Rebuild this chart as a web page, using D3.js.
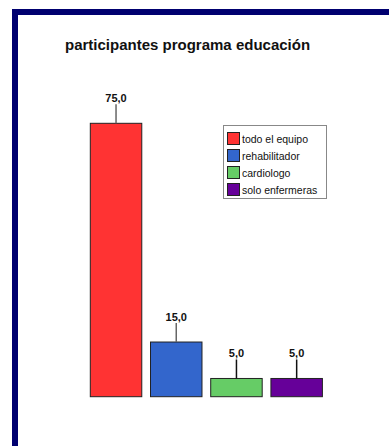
<!DOCTYPE html>
<html><head><meta charset="utf-8">
<script src="https://cdn.jsdelivr.net/npm/d3@7"></script>
<style>body{margin:0;background:#fff;}svg{display:block;font-family:"Liberation Sans",Arial,sans-serif;}</style>
</head><body>
<script>
const categories = ["todo el equipo", "rehabilitador", "cardiologo", "solo enfermeras"];
const values = [75, 15, 5, 5];
const labels = ["75,0", "15,0", "5,0", "5,0"];
const colors = ["#FF3333", "#3366CC", "#66CC66", "#660099"];
const title = "participantes programa educación";

const W = 389, H = 446;
const svg = d3.select("body").append("svg").attr("width", W).attr("height", H);

// frame
svg.append("rect").attr("x", 15).attr("y", 12).attr("width", 500).attr("height", 600)
  .attr("fill", "#fff").attr("stroke", "#000070").attr("stroke-width", 6);

svg.append("text").attr("x", 65).attr("y", 50).attr("font-size", 15).attr("font-weight", "bold")
  .attr("fill", "#111").text(title);

const x = d3.scaleBand().domain(categories).range([90.3, 322.4]).paddingInner(0.145).paddingOuter(0);
const y = d3.scaleLinear().domain([0, 75]).range([396.7, 123.3]);

const g = svg.append("g");
g.selectAll("rect.bar").data(categories).join("rect").attr("class", "bar")
  .attr("x", d => x(d)).attr("width", x.bandwidth())
  .attr("y", (d, i) => y(values[i])).attr("height", (d, i) => y(0) - y(values[i]))
  .attr("fill", (d, i) => colors[i]).attr("stroke", "#222").attr("stroke-width", 1);

g.selectAll("line.lead").data(categories).join("line").attr("class", "lead")
  .attr("x1", d => x(d) + x.bandwidth() / 2).attr("x2", d => x(d) + x.bandwidth() / 2)
  .attr("y1", (d, i) => y(values[i])).attr("y2", (d, i) => y(values[i]) - 19)
  .attr("stroke", (d, i) => i < 2 ? "#666" : "#111").attr("stroke-width", 1.5);

g.selectAll("text.val").data(categories).join("text").attr("class", "val")
  .attr("x", d => x(d) + x.bandwidth() / 2).attr("y", (d, i) => y(values[i]) - 21)
  .attr("text-anchor", "middle").attr("font-size", 11).attr("font-weight", "bold").attr("fill", "#111")
  .text((d, i) => labels[i]);

// legend
const lg = svg.append("g");
lg.append("rect").attr("x", 223.5).attr("y", 125.5).attr("width", 103).attr("height", 73)
  .attr("fill", "#fff").attr("stroke", "#888");
const rows = lg.selectAll("g.row").data(categories).join("g").attr("class", "row")
  .attr("transform", (d, i) => `translate(227,${132 + i * 17})`);
rows.append("rect").attr("x", 0.5).attr("y", 0.5).attr("width", 12).attr("height", 12)
  .attr("fill", (d, i) => colors[i]).attr("stroke", "#222");
rows.append("text").attr("x", 15).attr("y", 10.5).attr("font-size", 10.5).attr("fill", "#111")
  .text(d => d);
</script>
</body></html>
